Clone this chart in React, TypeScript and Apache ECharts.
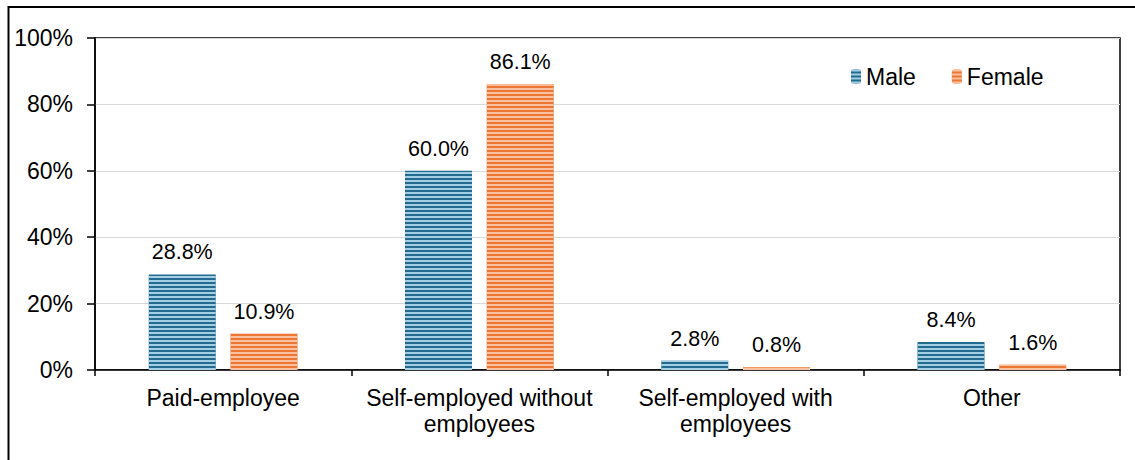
import React, { useEffect, useRef } from "react";
import * as echarts from "echarts";

const categories = [
  "Paid-employee",
  "Self-employed without\nemployees",
  "Self-employed with\nemployees",
  "Other",
];
const maleValues = [28.8, 60.0, 2.8, 8.4];
const femaleValues = [10.9, 86.1, 0.8, 1.6];
const yTicks = [0, 20, 40, 60, 80, 100];

const FONT = "'Liberation Sans', Arial, sans-serif";

export default function App() {
  const ref = useRef<HTMLDivElement>(null);
  useEffect(() => {
    if (!ref.current) return;
    const chart = echarts.init(ref.current, undefined, { renderer: "svg" });
    const labelCfg = {
      show: true,
      position: "top" as const,
      distance: 11,
      color: "#000",
      fontFamily: FONT,
      fontSize: 21.5,
      formatter: (p: any) => Number(p.value).toFixed(1) + "%",
    };
    chart.setOption({
      animation: false,
      aria: { enabled: true, decal: { show: true } },
      textStyle: { fontFamily: FONT },
      graphic: [
        {
          type: "rect",
          shape: { x: 8.5, y: 7, width: 1300, height: 700 },
          style: { fill: "none", stroke: "#000", lineWidth: 2 },
          silent: true,
        },
      ],
      grid: {
        left: 95,
        right: 15,
        top: 38,
        bottom: 90,
        show: true,
        borderColor: "#000",
        borderWidth: 1.5,
        backgroundColor: "transparent",
      },
      legend: {
        left: 846,
        top: 60,
        itemWidth: 10,
        itemHeight: 14,
        itemGap: 36,
        textStyle: { fontFamily: FONT, fontSize: 23, color: "#000" },
        data: ["Male", "Female"],
      },
      xAxis: {
        type: "category",
        data: categories,
        axisLine: { lineStyle: { color: "#000", width: 1.5 } },
        axisTick: { show: true, length: 6, lineStyle: { color: "#000", width: 1.5 } },
        axisLabel: {
          color: "#000",
          fontFamily: FONT,
          fontSize: 23,
          lineHeight: 26,
          margin: 15,
          interval: 0,
        },
      },
      yAxis: {
        type: "value",
        min: 0,
        max: 100,
        interval: 20,
        axisLine: { show: true, lineStyle: { color: "#000", width: 1.5 } },
        axisTick: { show: true, inside: false, length: 8, lineStyle: { color: "#000", width: 1.5 } },
        splitLine: { lineStyle: { color: "#D9D9D9", width: 1.2 } },
        axisLabel: {
          color: "#000",
          fontFamily: FONT,
          fontSize: 23,
          margin: 22,
          formatter: (v: number) => (yTicks.includes(v) ? v + "%" : ""),
        },
      },
      series: [
        {
          name: "Male",
          type: "bar",
          data: maleValues,
          barWidth: 67,
          barGap: "22%",
          itemStyle: {
            color: "#256A8F",
            decal: {
              symbol: "rect",
              color: "#A2CFE4",
              dashArrayX: [1, 0],
              dashArrayY: [1.5, 1.8],
              symbolSize: 1,
              rotation: 0,
            },
          },
          label: labelCfg,
        },
        {
          name: "Female",
          type: "bar",
          data: femaleValues,
          barWidth: 67,
          barGap: "22%",
          itemStyle: {
            color: "#EC7634",
            decal: {
              symbol: "rect",
              color: "#F9C19F",
              dashArrayX: [1, 0],
              dashArrayY: [1.5, 1.8],
              symbolSize: 1,
              rotation: 0,
            },
          },
          label: labelCfg,
        },
      ],
    });
    return () => chart.dispose();
  }, []);
  return (
    <div
      ref={ref}
      style={{ position: "absolute", left: 0, top: 0, width: 1135, height: 460 }}
    />
  );
}
